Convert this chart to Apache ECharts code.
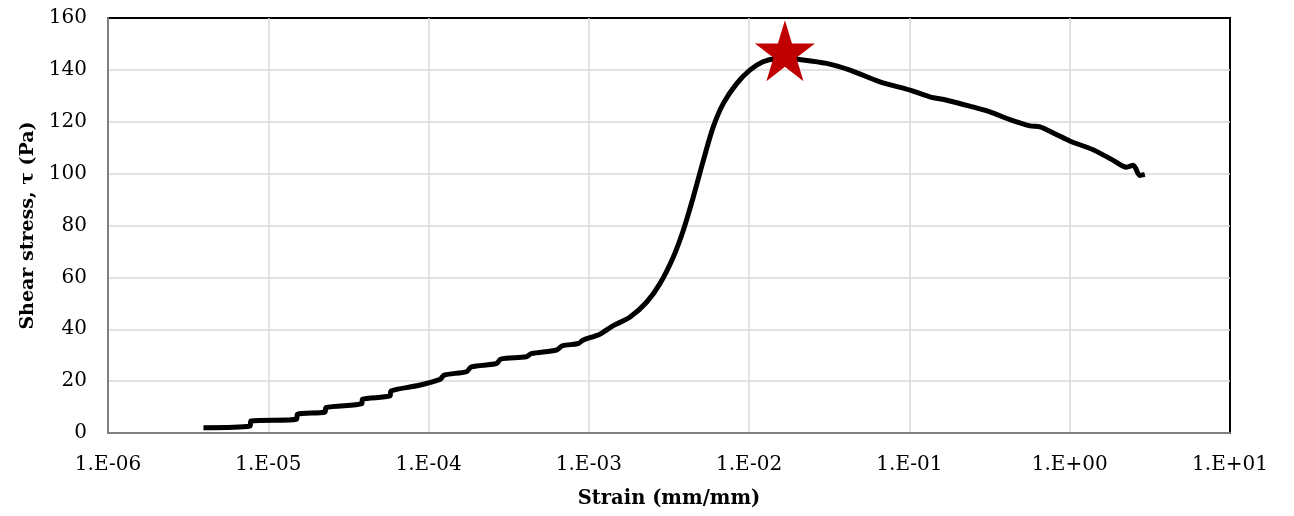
<!DOCTYPE html>
<html><head><meta charset="utf-8">
<script src="https://cdn.jsdelivr.net/npm/echarts@6/dist/echarts.min.js"></script>
<style>html,body{margin:0;padding:0;background:#fff}#c{width:1294px;height:516px}</style>
</head><body><div id="c"></div>
<script>
var strain = [3.94e-6,7.69e-6,7.8e-6,1.50e-5,1.52e-5,2.26e-5,2.29e-5,3.83e-5,3.87e-5,5.74e-5,5.83e-5,8.43e-5,1.18e-4,1.25e-4,1.73e-4,1.85e-4,2.65e-4,2.82e-4,4.08e-4,4.37e-4,6.29e-4,6.81e-4,8.59e-4,9.2e-4,1.17e-3,1.42e-3,1.80e-3,2.29e-3,2.77e-3,3.36e-3,3.88e-3,4.48e-3,5.18e-3,5.97e-3,6.89e-3,8.36e-3,1.01e-2,1.22e-2,1.48e-2,1.67e-2,2.07e-2,3.04e-2,4.26e-2,6.55e-2,1.01e-1,1.34e-1,1.71e-1,2.38e-1,3.18e-1,4.24e-1,5.65e-1,6.52e-1,7.89e-1,1.0,1.40,1.87,2.26,2.49,2.74,2.94];
var stress = [2.05,2.7,4.6,5.3,7.2,8.1,9.8,11.3,13.0,14.3,16.2,18.2,20.7,22.3,23.7,25.5,26.8,28.5,29.4,30.6,32.0,33.6,34.5,35.8,38.1,41.4,44.6,50.4,57.5,67.8,78.1,90.9,105.1,118.0,127.0,134.7,139.9,143.1,144.4,144.5,144.0,142.5,139.9,135.4,132.2,129.6,128.3,126.0,123.8,120.8,118.4,118.0,115.7,112.6,109.2,105.1,102.5,103.2,99.3,99.7];
var peakStrain = [0.01672];
var peakStress = [147.4];

var font = 'DejaVu Serif';
var chart = echarts.init(document.getElementById('c'));
var star = 'path://M50,0 L61.2,34.5 L97.6,34.5 L68.2,55.9 L79.4,90.5 L50,69.1 L20.6,90.5 L31.8,55.9 L2.4,34.5 L38.8,34.5 Z';
chart.setOption({
  animation:false,
  grid:{left:108,right:64,top:18,bottom:83,show:true,borderColor:'#000',borderWidth:2,backgroundColor:'#fff'},
  xAxis:{type:'log',logBase:10,min:1e-6,max:10,
    name:'Strain (mm/mm)',nameLocation:'middle',nameGap:56,
    nameTextStyle:{fontFamily:font,fontSize:19.5,fontWeight:'bold',color:'#000'},
    axisLine:{show:true,lineStyle:{color:'#808080',width:2}},
    axisTick:{show:false},
    axisLabel:{fontFamily:font,fontSize:20,color:'#000',margin:22,
      formatter:function(v){var e=Math.round(Math.log10(v));var s=Math.abs(e)<10?'0'+Math.abs(e):''+Math.abs(e);return '1.E'+(e<0?'-':'+')+s;}},
    splitLine:{show:true,showMaxLine:false,lineStyle:{color:'#d9d9d9',width:1.5}},
    minorTick:{show:false},minorSplitLine:{show:false}},
  yAxis:{type:'value',min:0,max:160,interval:20,
    name:'Shear stress, τ (Pa)',nameLocation:'middle',nameGap:68,
    nameTextStyle:{fontFamily:font,fontSize:19,fontWeight:'bold',color:'#000'},
    axisLine:{show:true,lineStyle:{color:'#808080',width:2}},
    axisTick:{show:false},
    axisLabel:{fontFamily:font,fontSize:20,color:'#000',margin:21},
    splitLine:{show:true,showMaxLine:false,lineStyle:{color:'#d9d9d9',width:1.5}}},
  series:[
    {type:'line',data:strain.map(function(s,i){return [s,stress[i]];}),showSymbol:false,smooth:0.3,
     lineStyle:{color:'#000',width:5},z:3},
    {type:'scatter',data:peakStrain.map(function(s,i){return [s,peakStress[i]];}),symbol:star,symbolSize:[60,61],
     itemStyle:{color:'#c00000',opacity:1},z:4}
  ]
});
</script></body></html>
